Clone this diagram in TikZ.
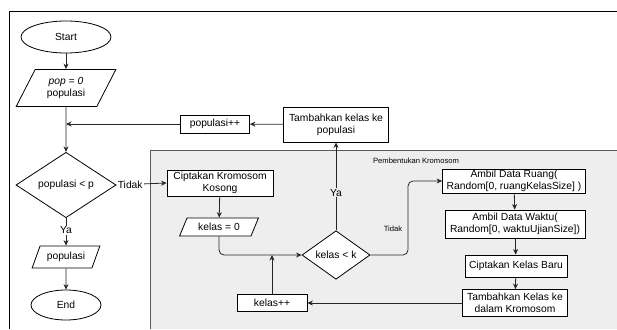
\documentclass[tikz,border=0pt]{standalone}
\usepackage{fontspec}
\setmainfont{Liberation Sans}
\usetikzlibrary{shapes.geometric,arrows.meta}

\definecolor{panel}{HTML}{EEEEEE}

\begin{document}
\begin{tikzpicture}[x=1pt,y=-1pt,>={Stealth[length=5.5pt,width=5pt]},
        font=\fontsize{10.3}{12}\selectfont,line width=0.8pt,
        proc/.style={draw,fill=white,align=center,inner sep=1pt},
        io/.style={draw,fill=white,trapezium,trapezium left angle=62,trapezium right angle=118,
                   trapezium stretches=true,align=center,inner sep=1pt},
        term/.style={draw,fill=white,ellipse,minimum width=90,minimum height=32,inner sep=0pt},
        decide/.style={draw,fill=white,diamond,inner sep=0pt},
        flow/.style={draw=black!85,->},
        tiny/.style={font=\fontsize{7.6}{9}\selectfont,inner sep=1pt}]
        \useasboundingbox (0,0) rectangle (617,329);

        % frame and the chromosome panel
        \fill[panel] (150,150) rectangle (617,329);
        \draw[black!65] (617,150) -- (150,150) -- (150,329);
        \draw (617,11) -- (9,11) -- (9,329);
        \node[tiny] (panelname) at (416,161) {Pembentukan Kromosom};

        % main loop
        \node[term] (start) at (66,37) {Start};
        \node[io,minimum width=100,minimum height=37] (pop) at (66,88) {\textit{pop = 0}\\populasi};
        \node[decide,minimum width=100,minimum height=65] (cekpop) at (66,185) {populasi < p};
        \node[io,minimum width=68,minimum height=22] (hasil) at (66,257) {populasi};
        \node[term,minimum width=70,minimum height=30] (end) at (66,305) {End};
        \coordinate (gabung) at (66,124);

        \node[proc,minimum width=69,minimum height=18] (popinc) at (215,124) {populasi++};
        \node[proc,minimum width=105,minimum height=35] (tambahpop) at (336,124.5) {Tambahkan kelas ke\\populasi};

        % building one chromosome
        \node[proc,minimum width=106,minimum height=26] (kosong) at (220,183) {Ciptakan Kromosom\\Kosong};
        \node[io,minimum width=79,minimum height=18] (kelasnol) at (219,227) {kelas = 0};
        \node[decide,minimum width=68,minimum height=46] (cekkelas) at (336,255) {kelas < k};
        \node[proc,minimum width=70,minimum height=17] (kelasinc) at (272,303) {kelas++};
        \coordinate (masuk) at (272,255);

        \node[proc,minimum width=143,minimum height=24] (ruang) at (514,181) {Ambil Data Ruang(\\Random[0, ruangKelasSize] )};
        \node[proc,minimum width=140,minimum height=28] (waktu) at (515,224) {Ambil Data Waktu(\\Random[0, waktuUjianSize])};
        \node[proc,minimum width=102,minimum height=22] (kelasbaru) at (516,266) {Ciptakan Kelas Baru};
        \node[proc,minimum width=105,minimum height=27] (tambahkelas) at (515,303) {Tambahkan Kelas ke\\dalam Kromosom};
        \node[tiny] (tidakk) at (393,229) {Tidak};

        \draw[flow] (start) -- (pop);
        \draw[flow] (pop) -- (cekpop);
        \draw[flow] (cekpop) -- node[fill=white,inner sep=1pt,pos=0.45] (ya) {Ya} (hasil);
        \draw[flow] (hasil) -- (end);
        \draw[flow] (cekpop.east) -- node[fill=white,inner sep=1pt,pos=0,anchor=west] (tidak) {Tidak} (kosong.west);

        \draw[flow] (kosong) -- (kelasnol);
        \draw[flow,rounded corners=5pt] (kelasnol.south) |- (cekkelas.west);
        \draw[flow] (kelasinc) -- (masuk);
        \draw[flow] (cekkelas.north) -- node[fill=panel,inner sep=1pt,pos=0.43] (yak) {Ya} (tambahpop.south);
        \draw[flow] (tambahpop) -- (popinc);
        \draw[flow] (popinc) -- (gabung);
        \draw[flow,rounded corners=5pt] (cekkelas.east) -- (408,255) |- (ruang.west);

        \draw[flow] (ruang) -- (waktu);
        \draw[flow] (waktu) -- (kelasbaru);
        \draw[flow] (kelasbaru) -- (tambahkelas);
        \draw[flow] (tambahkelas) -- (kelasinc);
    \end{tikzpicture}
\end{document}
